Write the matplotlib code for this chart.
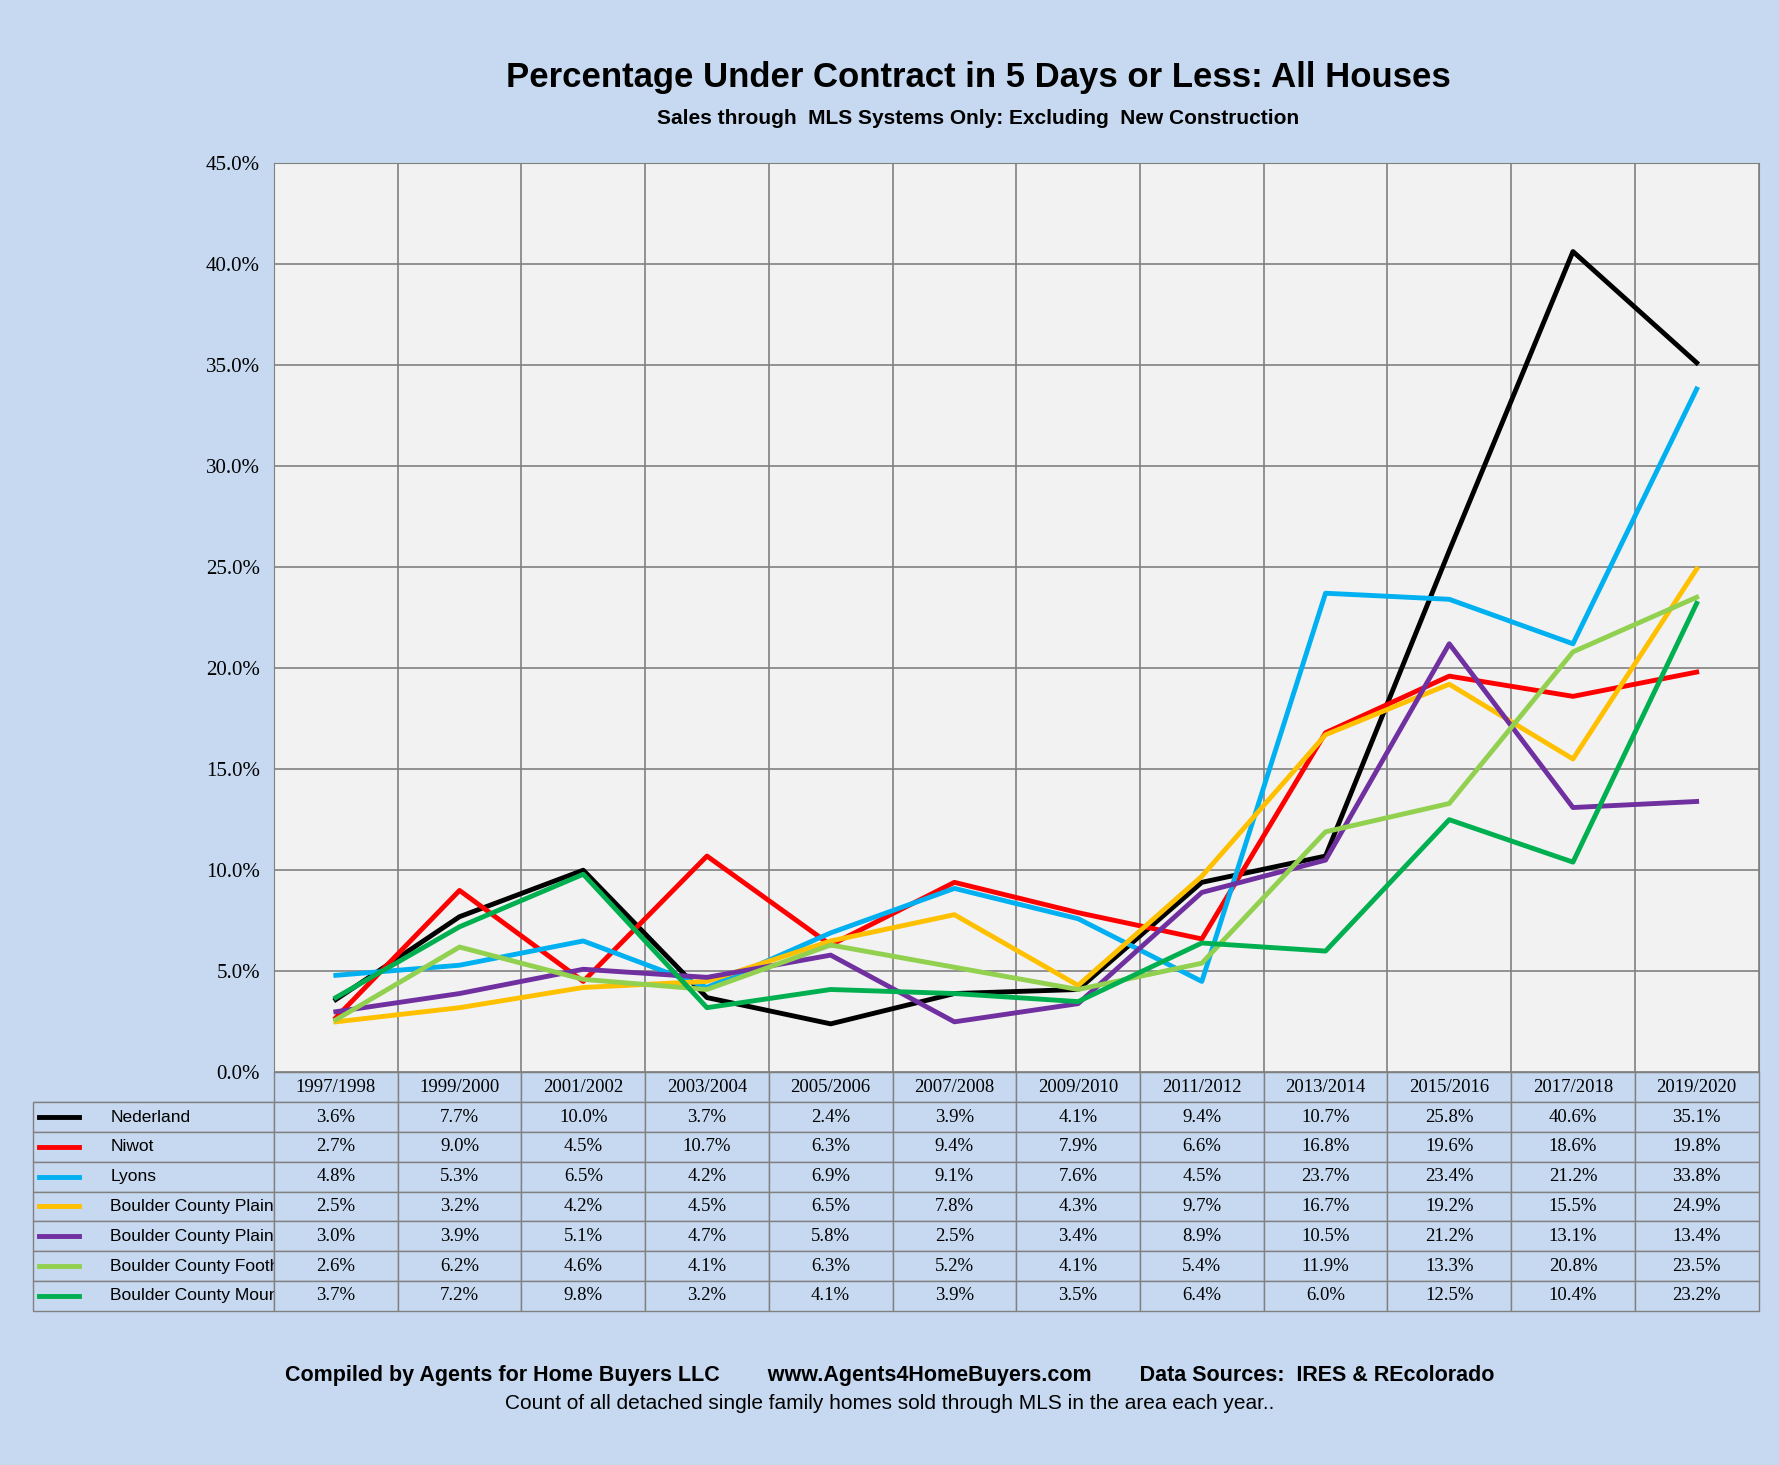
import matplotlib
matplotlib.use("Agg")
import matplotlib.pyplot as plt
import numpy as np

years = ["1997/1998","1999/2000","2001/2002","2003/2004","2005/2006","2007/2008",
         "2009/2010","2011/2012","2013/2014","2015/2016","2017/2018","2019/2020"]
series_names = ["Nederland","Niwot","Lyons","Boulder County Plains SE",
                "Boulder County Plains NW","Boulder County Foothills","Boulder County Mountains"]
nederland = [3.6,7.7,10.0,3.7,2.4,3.9,4.1,9.4,10.7,25.8,40.6,35.1]
niwot     = [2.7,9.0,4.5,10.7,6.3,9.4,7.9,6.6,16.8,19.6,18.6,19.8]
lyons     = [4.8,5.3,6.5,4.2,6.9,9.1,7.6,4.5,23.7,23.4,21.2,33.8]
plains_se = [2.5,3.2,4.2,4.5,6.5,7.8,4.3,9.7,16.7,19.2,15.5,24.9]
plains_nw = [3.0,3.9,5.1,4.7,5.8,2.5,3.4,8.9,10.5,21.2,13.1,13.4]
foothills = [2.6,6.2,4.6,4.1,6.3,5.2,4.1,5.4,11.9,13.3,20.8,23.5]
mountains = [3.7,7.2,9.8,3.2,4.1,3.9,3.5,6.4,6.0,12.5,10.4,23.2]
data = [nederland,niwot,lyons,plains_se,plains_nw,foothills,mountains]
colors = ["#000000","#FF0000","#00B0F0","#FFC000","#7030A0","#92D050","#00B050"]

bg = "#C6D9F1"
fig = plt.figure(figsize=(17.79,14.65), dpi=100, facecolor=bg)
ax = fig.add_axes([0.154,0.268,0.8345,0.621])
ax.set_facecolor("#F2F2F2")
x = np.arange(len(years))
for d,c,n in zip(data,colors,series_names):
    ax.plot(x,d,color=c,lw=3.5,label=n)
ax.set_xlim(-0.5,11.5)
ax.set_ylim(0,45)
ax.set_yticks(np.arange(0,46,5))
ax.set_yticklabels([f"{v:.1f}%" for v in np.arange(0,46,5)],family="Liberation Serif",fontsize=15)
ax.set_xticks(np.arange(-0.5,11.6,1))
ax.set_xticklabels([])
ax.tick_params(axis="x",length=0)
ax.tick_params(axis="y",length=0,pad=10)
ax.grid(True,color="#808080",lw=1.2)
for s in ax.spines.values():
    s.set_color("#808080")

# table
cell_text = [[""]+years] + [[n]+[f"{v:.1f}%" for v in d] for n,d in zip(series_names,data)]
tb = ax.table(cellText=cell_text, bbox=[-0.162,-0.262,1.162,0.262], cellLoc="center")
tb.auto_set_font_size(False)
ncol = 13
w_label = 0.162/1.162
w_other = (1-w_label)/12
for (r,c),cell in tb.get_celld().items():
    cell.set_facecolor(bg)
    cell.set_edgecolor("#808080")
    cell.set_width(w_label if c==0 else w_other)
    t = cell.get_text()
    if c==0:
        t.set_fontfamily("Liberation Sans"); t.set_fontsize(12.5)
        t.set_ha("left"); cell.PAD = 0.32
        if r==0:
            cell.visible_edges = "B"
    else:
        t.set_fontfamily("Liberation Serif"); t.set_fontsize(13.5)
# legend line keys
rowh = 0.262/8
for i,c in enumerate(colors):
    yc = -rowh*(i+1) - rowh/2
    ax.plot([-0.158,-0.131],[yc,yc],transform=ax.transAxes,color=c,lw=3.5,clip_on=False)

fig.text(0.55,0.947,"Percentage Under Contract in 5 Days or Less: All Houses",ha="center",va="center",
         fontsize=25,fontweight="bold",family="Liberation Sans")
fig.text(0.55,0.919,"Sales through  MLS Systems Only: Excluding  New Construction",ha="center",va="center",
         fontsize=15,fontweight="bold",family="Liberation Sans")
fig.text(0.16,0.061,"Compiled by Agents for Home Buyers LLC        www.Agents4HomeBuyers.com        Data Sources:  IRES & REcolorado",
         ha="left",va="center",fontsize=15.5,fontweight="bold",family="Liberation Sans")
fig.text(0.5,0.042,"Count of all detached single family homes sold through MLS in the area each year..",
         ha="center",va="center",fontsize=15,family="Liberation Sans")
fig.savefig("out.png",dpi=100,facecolor=bg,edgecolor="#808080")
